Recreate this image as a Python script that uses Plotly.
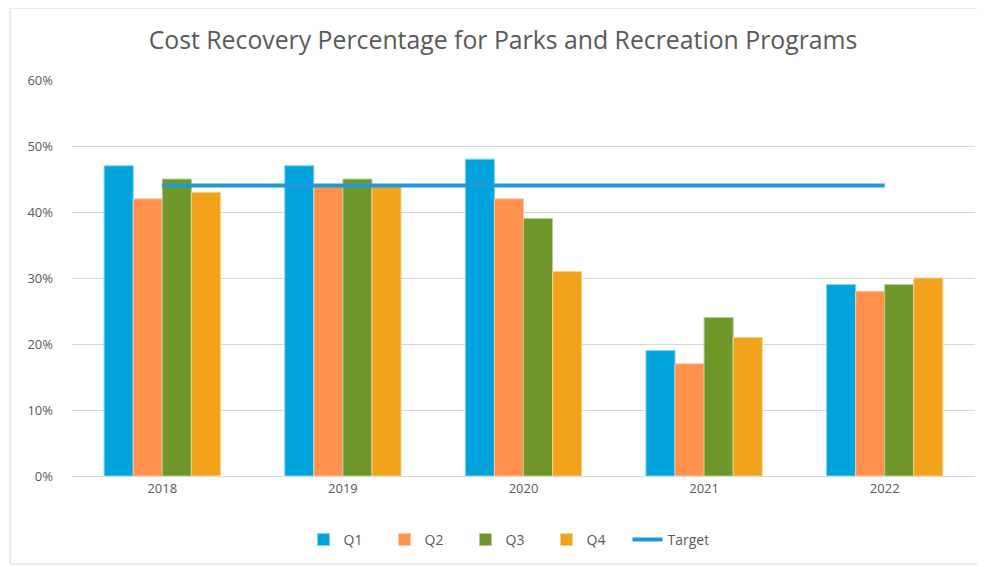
import plotly.graph_objects as go

years = ["2018", "2019", "2020", "2021", "2022"]
q1 = [0.47, 0.47, 0.48, 0.19, 0.29]
q2 = [0.42, 0.44, 0.42, 0.17, 0.28]
q3 = [0.45, 0.45, 0.39, 0.24, 0.29]
q4 = [0.43, 0.44, 0.31, 0.21, 0.30]
target = [0.44, 0.44, 0.44, 0.44, 0.44]

series = [("Q1", q1, "#00A3DC", "#7FD1EE"),
          ("Q2", q2, "#FF914D", "#FFC8A5"),
          ("Q3", q3, "#6E9629", "#B6CB94"),
          ("Q4", q4, "#F2A31C", "#F9D18D")]

fig = go.Figure()
for name, vals, col, lc in series:
    fig.add_trace(go.Bar(x=years, y=vals, name=name, marker=dict(color=col, line=dict(color=lc, width=1))))
fig.add_trace(go.Scatter(x=years, y=target, name="Target", mode="lines",
                         line=dict(color="#1E9AD6", width=4)))

# page body has an 8px margin; work in viewport coordinates
OFF = 8
W, H = 985 - OFF, 567 - OFF
L, R, T, B = 72 - OFF, 985 - 975, 80 - OFF, 567 - 476
pw, ph = W - L - R, H - T - B

def px(x):
    return (x - OFF - L) / pw

def py(y):
    return (H - B - (y - OFF)) / ph

fig.add_shape(type="rect", xref="paper", yref="paper",
              x0=px(10), x1=px(981), y0=py(564), y1=py(OFF),
              line=dict(color="#D9D9D9", width=1), layer="below")

fig.update_layout(
    width=W, height=H,
    margin=dict(l=L, r=R, t=T, b=B),
    paper_bgcolor="white", plot_bgcolor="white",
    font=dict(family="Open Sans", color="#595959", size=13),
    title=dict(text="Cost Recovery Percentage for Parks and Recreation Programs",
               font=dict(size=24.8, color="#595959"),
               xref="container", x=(503 - OFF) / W, xanchor="center",
               y=1 - (40 - OFF) / H, yanchor="middle"),
    barmode="group", bargap=0.356, bargroupgap=0,
    legend=dict(orientation="h", x=px(506), xanchor="center", y=py(540), yanchor="middle",
                font=dict(size=14, color="#595959"), traceorder="normal",
                itemwidth=30, entrywidth=36),
    xaxis=dict(type="category", showgrid=False, showline=True, linecolor="#D9D9D9",
               ticks="", tickfont=dict(size=13, color="#595959")),
    yaxis=dict(range=[0, 0.6], dtick=0.1, tickformat=".0%", showgrid=True,
               gridcolor="#D9D9D9", gridwidth=1, zeroline=False, showline=False,
               ticks="", ticklabelstandoff=18, tickfont=dict(size=13, color="#595959")),
)

fig.write_html("out.html")
